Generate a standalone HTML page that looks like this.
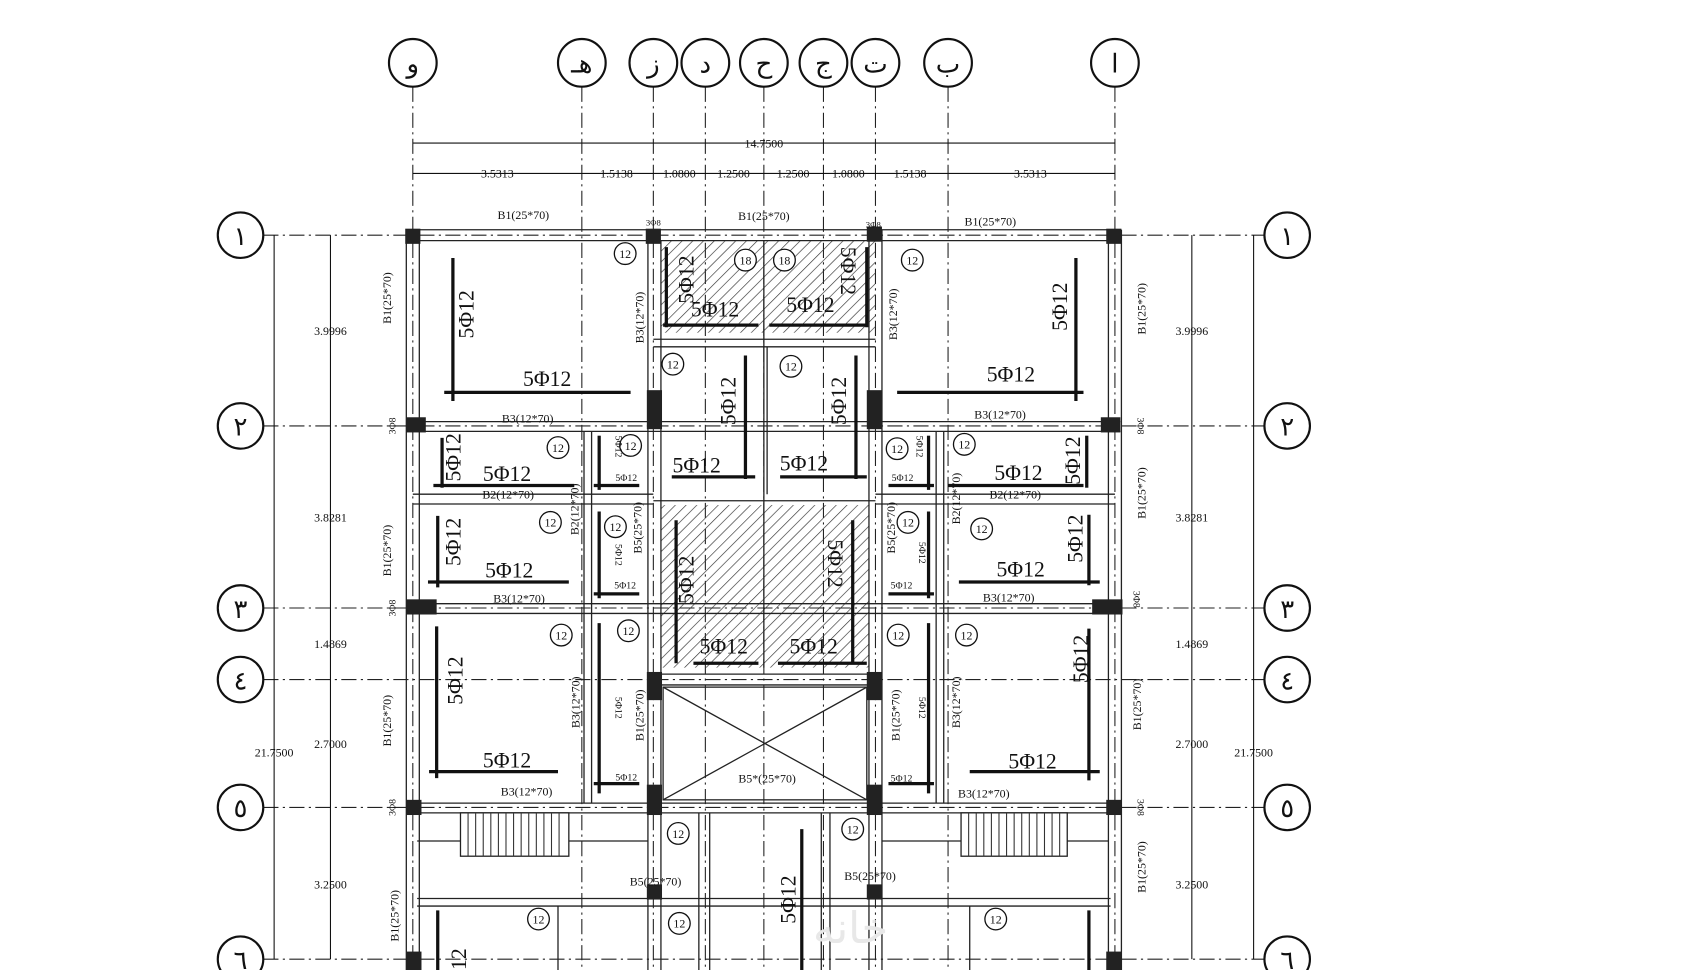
<!DOCTYPE html>
<html><head><meta charset="utf-8"><style>
html,body{margin:0;padding:0;background:#fff;width:1700px;height:970px;overflow:hidden}
svg{display:block}
text{font-family:"Liberation Serif","DejaVu Serif",serif;fill:#111}
.s{font-size:11px}
.b{font-size:20px}
.g{font-size:24px;font-family:"DejaVu Sans",sans-serif}
</style></head><body>
<svg width="1700" height="970" viewBox="0 0 1569 895" preserveAspectRatio="none" xmlns="http://www.w3.org/2000/svg">
<defs>
<pattern id="h" width="7" height="7" patternUnits="userSpaceOnUse" patternTransform="rotate(45)"><line x1="0" y1="0" x2="0" y2="7" stroke="#333" stroke-width="1.2"/></pattern>
</defs>
<rect width="1569" height="895" fill="#fff"/>
<g stroke="#222" stroke-width="1" stroke-dasharray="14,4,2,4" fill="none">
<line x1="381" y1="80" x2="381" y2="895"/><line x1="537" y1="80" x2="537" y2="895"/><line x1="603" y1="80" x2="603" y2="895"/><line x1="651" y1="80" x2="651" y2="895"/><line x1="705" y1="80" x2="705" y2="895"/><line x1="760" y1="80" x2="760" y2="895"/><line x1="808" y1="80" x2="808" y2="895"/><line x1="875" y1="80" x2="875" y2="895"/><line x1="1029" y1="80" x2="1029" y2="895"/>
<line x1="243" y1="217" x2="1167" y2="217"/><line x1="243" y1="393" x2="1167" y2="393"/><line x1="243" y1="561" x2="1167" y2="561"/><line x1="243" y1="627" x2="1167" y2="627"/><line x1="243" y1="745" x2="1167" y2="745"/><line x1="243" y1="885" x2="1167" y2="885"/>
</g>
<g fill="#fff" stroke="#111" stroke-width="2">
<circle cx="381" cy="58" r="22"/><circle cx="537" cy="58" r="22"/><circle cx="603" cy="58" r="22"/><circle cx="651" cy="58" r="22"/><circle cx="705" cy="58" r="22"/><circle cx="760" cy="58" r="22"/><circle cx="808" cy="58" r="22"/><circle cx="875" cy="58" r="22"/><circle cx="1029" cy="58" r="22"/>
<circle cx="222" cy="217" r="21"/><circle cx="222" cy="393" r="21"/><circle cx="222" cy="561" r="21"/><circle cx="222" cy="627" r="21"/><circle cx="222" cy="745" r="21"/><circle cx="222" cy="885" r="21"/>
<circle cx="1188" cy="217" r="21"/><circle cx="1188" cy="393" r="21"/><circle cx="1188" cy="561" r="21"/><circle cx="1188" cy="627" r="21"/><circle cx="1188" cy="745" r="21"/><circle cx="1188" cy="885" r="21"/>
</g>
<g class="g" text-anchor="middle">
<text x="381" y="67">و</text><text x="537" y="67">هـ</text><text x="603" y="67">ز</text><text x="651" y="67">د</text><text x="705" y="67">ح</text><text x="760" y="67">ج</text><text x="808" y="67">ت</text><text x="875" y="67">ب</text><text x="1029" y="67">ا</text>
<text x="222" y="226">١</text><text x="222" y="402">٢</text><text x="222" y="570">٣</text><text x="222" y="636">٤</text><text x="222" y="754">٥</text><text x="222" y="894">٦</text>
<text x="1188" y="226">١</text><text x="1188" y="402">٢</text><text x="1188" y="570">٣</text><text x="1188" y="636">٤</text><text x="1188" y="754">٥</text><text x="1188" y="894">٦</text>
</g>
<g stroke="#111" stroke-width="1">
<line x1="381" y1="132" x2="1029" y2="132"/><line x1="381" y1="160" x2="1029" y2="160"/>
<line x1="305" y1="217" x2="305" y2="885"/><line x1="253" y1="217" x2="253" y2="885"/>
<line x1="1100" y1="217" x2="1100" y2="885"/><line x1="1157" y1="217" x2="1157" y2="885"/>
</g>
<g text-anchor="middle">
<text x="705" y="136" class="s">14.7500</text>
<text x="459" y="164" class="s">3.5313</text><text x="569" y="164" class="s">1.5138</text><text x="627" y="164" class="s">1.0800</text><text x="677" y="164" class="s">1.2500</text><text x="732" y="164" class="s">1.2500</text><text x="783" y="164" class="s">1.0800</text><text x="840" y="164" class="s">1.5138</text><text x="951" y="164" class="s">3.5313</text>
<text x="305" y="309" class="s">3.9996</text><text x="305" y="481" class="s">3.8281</text><text x="305" y="598" class="s">1.4869</text><text x="305" y="690" class="s">2.7000</text><text x="305" y="820" class="s">3.2500</text><text x="253" y="698" class="s">21.7500</text>
<text x="1100" y="309" class="s">3.9996</text><text x="1100" y="481" class="s">3.8281</text><text x="1100" y="598" class="s">1.4869</text><text x="1100" y="690" class="s">2.7000</text><text x="1100" y="820" class="s">3.2500</text><text x="1157" y="698" class="s">21.7500</text>
</g>
<rect x="610" y="222" width="198" height="85" fill="url(#h)"/>
<rect x="610" y="466" width="192" height="150" fill="url(#h)"/>
<g stroke="#222" stroke-width="1.2" fill="none">
<line x1="376" y1="212" x2="1034" y2="212"/><line x1="376" y1="222" x2="1034" y2="222"/>
<line x1="376" y1="389" x2="1034" y2="389"/><line x1="376" y1="398" x2="1034" y2="398"/>
<line x1="376" y1="557" x2="1034" y2="557"/><line x1="376" y1="566" x2="1034" y2="566"/>
<line x1="376" y1="741" x2="1034" y2="741"/><line x1="376" y1="750" x2="1034" y2="750"/>
<line x1="381" y1="456" x2="603" y2="456"/><line x1="381" y1="465" x2="603" y2="465"/>
<line x1="808" y1="456" x2="1029" y2="456"/><line x1="808" y1="465" x2="1029" y2="465"/>
<line x1="603" y1="313" x2="808" y2="313"/><line x1="603" y1="320" x2="808" y2="320"/>
<line x1="603" y1="462" x2="808" y2="462"/>
<line x1="603" y1="622" x2="808" y2="622"/><line x1="603" y1="632" x2="808" y2="632"/>
<line x1="385" y1="829" x2="1025" y2="829"/><line x1="385" y1="836" x2="1025" y2="836"/>
<line x1="375" y1="212" x2="375" y2="895"/><line x1="387" y1="222" x2="387" y2="895"/>
<line x1="1023" y1="222" x2="1023" y2="895"/><line x1="1035" y1="212" x2="1035" y2="895"/>
<line x1="598" y1="212" x2="598" y2="895"/><line x1="610" y1="222" x2="610" y2="895"/>
<line x1="802" y1="222" x2="802" y2="895"/><line x1="814" y1="212" x2="814" y2="895"/>
<line x1="539" y1="398" x2="539" y2="741"/><line x1="546" y1="398" x2="546" y2="741"/>
<line x1="864" y1="398" x2="864" y2="741"/><line x1="871" y1="398" x2="871" y2="741"/>
<line x1="705" y1="222" x2="705" y2="616"/><line x1="708" y1="320" x2="708" y2="456"/>
<line x1="645" y1="750" x2="645" y2="895"/><line x1="655" y1="750" x2="655" y2="895"/>
<line x1="758" y1="750" x2="758" y2="895"/><line x1="766" y1="750" x2="766" y2="895"/>
<line x1="515" y1="836" x2="515" y2="895"/><line x1="895" y1="836" x2="895" y2="895"/>
<rect x="612" y="634" width="188" height="104"/>
<line x1="612" y1="634" x2="800" y2="738"/><line x1="800" y1="634" x2="612" y2="738"/>
<rect x="425" y="750" width="100" height="40"/><rect x="887" y="750" width="98" height="40"/>
<line x1="385" y1="776" x2="425" y2="776"/><line x1="525" y1="776" x2="598" y2="776"/>
<line x1="814" y1="776" x2="887" y2="776"/><line x1="985" y1="776" x2="1023" y2="776"/>
</g>
<g stroke="#333" stroke-width="1">
<path d="M432 750V790M439 750V790M446 750V790M453 750V790M460 750V790M467 750V790M474 750V790M481 750V790M488 750V790M495 750V790M502 750V790M509 750V790M516 750V790"/>
<path d="M894 750V790M901 750V790M908 750V790M915 750V790M922 750V790M929 750V790M936 750V790M943 750V790M950 750V790M957 750V790M964 750V790M971 750V790M978 750V790"/>
</g>
<g fill="#222">
<rect x="374" y="211" width="14" height="14"/><rect x="596" y="211" width="14" height="14"/><rect x="800" y="209" width="14" height="14"/><rect x="1021" y="211" width="14" height="14"/>
<rect x="375" y="385" width="18" height="14"/><rect x="597" y="360" width="14" height="36"/><rect x="800" y="360" width="14" height="36"/><rect x="1016" y="385" width="18" height="14"/>
<rect x="375" y="553" width="28" height="14"/><rect x="1008" y="553" width="28" height="14"/>
<rect x="597" y="620" width="14" height="26"/><rect x="800" y="620" width="14" height="26"/>
<rect x="375" y="738" width="14" height="14"/><rect x="597" y="724" width="14" height="28"/><rect x="800" y="724" width="14" height="28"/><rect x="1021" y="738" width="14" height="14"/>
<rect x="597" y="816" width="14" height="14"/><rect x="800" y="816" width="14" height="14"/>
<rect x="375" y="878" width="14" height="17"/><rect x="1021" y="878" width="14" height="17"/>
</g>
<g stroke="#111" stroke-width="3">
<line x1="418" y1="238" x2="418" y2="370"/><line x1="410" y1="362" x2="582" y2="362"/>
<line x1="993" y1="238" x2="993" y2="370"/><line x1="828" y1="362" x2="1000" y2="362"/>
<line x1="615" y1="228" x2="615" y2="302"/><line x1="800" y1="228" x2="800" y2="302"/>
<line x1="612" y1="300" x2="700" y2="300"/><line x1="710" y1="300" x2="800" y2="300"/>
<line x1="688" y1="328" x2="688" y2="442"/><line x1="790" y1="328" x2="790" y2="442"/>
<line x1="620" y1="440" x2="697" y2="440"/><line x1="720" y1="440" x2="800" y2="440"/>
<line x1="400" y1="448" x2="530" y2="448"/><line x1="408" y1="404" x2="408" y2="450"/>
<line x1="395" y1="537" x2="525" y2="537"/><line x1="404" y1="476" x2="404" y2="542"/>
<line x1="875" y1="448" x2="1000" y2="448"/><line x1="1003" y1="402" x2="1003" y2="450"/>
<line x1="885" y1="537" x2="1015" y2="537"/><line x1="1005" y1="475" x2="1005" y2="540"/>
<line x1="624" y1="480" x2="624" y2="612"/><line x1="787" y1="480" x2="787" y2="612"/>
<line x1="640" y1="612" x2="700" y2="612"/><line x1="718" y1="612" x2="800" y2="612"/>
<line x1="403" y1="578" x2="403" y2="718"/><line x1="396" y1="712" x2="515" y2="712"/>
<line x1="1005" y1="580" x2="1005" y2="720"/><line x1="895" y1="712" x2="1015" y2="712"/>
<line x1="740" y1="765" x2="740" y2="895"/><line x1="404" y1="840" x2="404" y2="895"/><line x1="1005" y1="840" x2="1005" y2="895"/>
<line x1="553" y1="402" x2="553" y2="452"/><line x1="553" y1="472" x2="553" y2="552"/><line x1="553" y1="575" x2="553" y2="732"/>
<line x1="857" y1="402" x2="857" y2="452"/><line x1="857" y1="472" x2="857" y2="552"/><line x1="857" y1="575" x2="857" y2="732"/>
<line x1="548" y1="448" x2="590" y2="448"/><line x1="548" y1="548" x2="590" y2="548"/><line x1="548" y1="723" x2="590" y2="723"/>
<line x1="820" y1="448" x2="862" y2="448"/><line x1="820" y1="548" x2="862" y2="548"/><line x1="820" y1="723" x2="862" y2="723"/>
</g>
<g class="b" text-anchor="middle">
<text x="505" y="356">5Φ12</text><text x="933" y="352">5Φ12</text>
<text x="660" y="292">5Φ12</text><text x="748" y="288">5Φ12</text>
<text x="643" y="436">5Φ12</text><text x="742" y="434">5Φ12</text>
<text x="468" y="444">5Φ12</text><text x="470" y="533">5Φ12</text><text x="940" y="443">5Φ12</text><text x="942" y="532">5Φ12</text>
<text x="668" y="603">5Φ12</text><text x="751" y="603">5Φ12</text>
<text x="468" y="708">5Φ12</text><text x="953" y="709">5Φ12</text>
<text transform="translate(437,290) rotate(-90)">5Φ12</text>
<text transform="translate(985,283) rotate(-90)">5Φ12</text>
<text transform="translate(640,258) rotate(-90)">5Φ12</text>
<text transform="translate(776,250) rotate(90)">5Φ12</text>
<text transform="translate(679,370) rotate(-90)">5Φ12</text>
<text transform="translate(781,370) rotate(-90)">5Φ12</text>
<text transform="translate(425,422) rotate(-90)">5Φ12</text>
<text transform="translate(425,500) rotate(-90)">5Φ12</text>
<text transform="translate(997,425) rotate(-90)">5Φ12</text>
<text transform="translate(999,497) rotate(-90)">5Φ12</text>
<text transform="translate(640,535) rotate(-90)">5Φ12</text>
<text transform="translate(764,520) rotate(90)">5Φ12</text>
<text transform="translate(427,628) rotate(-90)">5Φ12</text>
<text transform="translate(1004,608) rotate(-90)">5Φ12</text>
<text transform="translate(734,830) rotate(-90)">5Φ12</text>
<text transform="translate(430,885) rotate(-90)">12</text>
</g>
<g fill="#fff" stroke="#111" stroke-width="1.2">
<circle cx="577" cy="234" r="10"/><circle cx="842" cy="240" r="10"/><circle cx="688" cy="240" r="10"/><circle cx="724" cy="240" r="10"/><circle cx="621" cy="336" r="10"/><circle cx="730" cy="338" r="10"/><circle cx="515" cy="413" r="10"/><circle cx="582" cy="411" r="10"/><circle cx="828" cy="414" r="10"/><circle cx="890" cy="410" r="10"/><circle cx="508" cy="482" r="10"/><circle cx="568" cy="486" r="10"/><circle cx="838" cy="482" r="10"/><circle cx="906" cy="488" r="10"/><circle cx="518" cy="586" r="10"/><circle cx="580" cy="582" r="10"/><circle cx="829" cy="586" r="10"/><circle cx="892" cy="586" r="10"/><circle cx="626" cy="769" r="10"/><circle cx="787" cy="765" r="10"/><circle cx="497" cy="848" r="10"/><circle cx="627" cy="852" r="10"/><circle cx="919" cy="848" r="10"/>
</g>
<g font-size="11" text-anchor="middle">
<text x="577" y="238">12</text><text x="842" y="244">12</text><text x="688" y="244">18</text><text x="724" y="244">18</text><text x="621" y="340">12</text><text x="730" y="342">12</text><text x="515" y="417">12</text><text x="582" y="415">12</text><text x="828" y="418">12</text><text x="890" y="414">12</text><text x="508" y="486">12</text><text x="568" y="490">12</text><text x="838" y="486">12</text><text x="906" y="492">12</text><text x="518" y="590">12</text><text x="580" y="586">12</text><text x="829" y="590">12</text><text x="892" y="590">12</text><text x="626" y="773">12</text><text x="787" y="769">12</text><text x="497" y="852">12</text><text x="627" y="856">12</text><text x="919" y="852">12</text>
</g>
<g class="s" text-anchor="middle">
<text x="483" y="202">B1(25*70)</text><text x="705" y="203">B1(25*70)</text><text x="914" y="208">B1(25*70)</text>
<text x="487" y="390">B3(12*70)</text><text x="923" y="386">B3(12*70)</text>
<text x="469" y="460">B2(12*70)</text><text x="937" y="460">B2(12*70)</text>
<text x="479" y="556">B3(12*70)</text><text x="931" y="555">B3(12*70)</text>
<text x="486" y="734">B3(12*70)</text><text x="908" y="736">B3(12*70)</text>
<text x="708" y="722">B5*(25*70)</text>
<text x="605" y="817">B5(25*70)</text><text x="803" y="812">B5(25*70)</text>
<text x="603" y="208" font-size="8">3Φ8</text><text x="806" y="210" font-size="8">3Φ8</text>
<text transform="translate(361,275) rotate(-90)">B1(25*70)</text>
<text transform="translate(361,508) rotate(-90)">B1(25*70)</text>
<text transform="translate(361,665) rotate(-90)">B1(25*70)</text>
<text transform="translate(368,845) rotate(-90)">B1(25*70)</text>
<text transform="translate(1057,285) rotate(-90)">B1(25*70)</text>
<text transform="translate(1057,455) rotate(-90)">B1(25*70)</text>
<text transform="translate(1053,650) rotate(-90)">B1(25*70)</text>
<text transform="translate(1057,800) rotate(-90)">B1(25*70)</text>
<text transform="translate(594,293) rotate(-90)">B3(12*70)</text>
<text transform="translate(828,290) rotate(-90)">B3(12*70)</text>
<text transform="translate(535,648) rotate(-90)">B3(12*70)</text>
<text transform="translate(886,648) rotate(-90)">B3(12*70)</text>
<text transform="translate(534,470) rotate(-90)">B2(12*70)</text>
<text transform="translate(886,460) rotate(-90)">B2(12*70)</text>
<text transform="translate(592,487) rotate(-90)">B5(25*70)</text>
<text transform="translate(826,487) rotate(-90)">B5(25*70)</text>
<text transform="translate(594,660) rotate(-90)">B1(25*70)</text>
<text transform="translate(830,660) rotate(-90)">B1(25*70)</text>
</g>
<g font-size="9" text-anchor="middle">
<text x="578" y="444">5Φ12</text><text x="577" y="543">5Φ12</text><text x="578" y="720">5Φ12</text>
<text x="833" y="444">5Φ12</text><text x="832" y="543">5Φ12</text><text x="832" y="721">5Φ12</text>
<text transform="translate(568,412) rotate(90)">5Φ12</text><text transform="translate(568,512) rotate(90)">5Φ12</text><text transform="translate(568,653) rotate(90)">5Φ12</text>
<text transform="translate(846,412) rotate(90)">5Φ12</text><text transform="translate(848,510) rotate(90)">5Φ12</text><text transform="translate(848,653) rotate(90)">5Φ12</text>
<text transform="translate(365,393) rotate(-90)">3Φ8</text><text transform="translate(1050,393) rotate(90)">3Φ8</text>
<text transform="translate(365,561) rotate(-90)">3Φ8</text><text transform="translate(1046,553) rotate(90)">3Φ8</text>
<text transform="translate(365,745) rotate(-90)">3Φ8</text><text transform="translate(1050,745) rotate(90)">3Φ8</text>
</g>
<text x="785" y="870" font-size="40" text-anchor="middle" font-family="DejaVu Sans,sans-serif" style="fill:#e8e8e8">خانه</text>
</svg>
</body></html>
